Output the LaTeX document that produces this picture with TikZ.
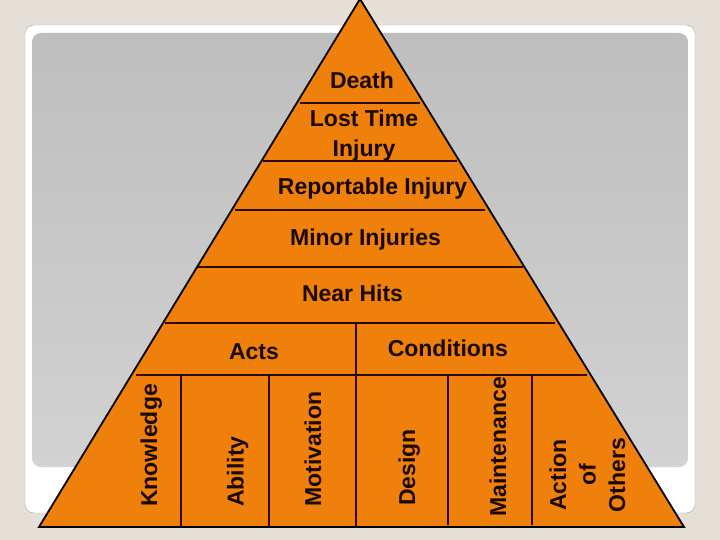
\documentclass[tikz,border=0pt]{standalone}
\usepackage{fontspec}
\setmainfont{Liberation Sans}
\usepackage{xcolor}
\definecolor{pagebg}{RGB}{228,224,215}
\definecolor{framegray}{RGB}{170,170,170}
\definecolor{paneltop}{RGB}{190,190,190}
\definecolor{panelbottom}{RGB}{210,210,210}
\definecolor{pyrorange}{RGB}{239,128,12}
\definecolor{divbrown}{RGB}{45,8,0}
\definecolor{labeltext}{RGB}{25,8,0}

\begin{document}
\begin{tikzpicture}[x=1pt,y=-1pt,
    lbl/.style={font=\bfseries\fontsize{23}{29.5}\selectfont, text=labeltext, inner sep=0pt},
    vlbl/.style={lbl, rotate=90, anchor=base west},
    divider/.style={draw=divbrown, line width=1.8pt}]
            \useasboundingbox[fill=pagebg] (0,0) rectangle (720,540);

            % slide frame
            \draw[fill=white, draw=framegray, rounded corners=9pt] (25,25) rectangle (695,513);
            \shade[top color=paneltop, bottom color=panelbottom, rounded corners=9pt] (32,33) rectangle (688,467);

            % pyramid
            \coordinate (apex) at (360,-1);
            \coordinate (baseleft) at (39,527);
            \coordinate (baseright) at (684,527);
            \draw[fill=pyrorange, line width=1.8pt] (apex) -- (baseleft) -- (baseright) -- cycle;

            % tiers
            \draw[divider] (300,103) -- (420,103);
            \draw[divider] (263,161) -- (457,161);
            \draw[divider] (235,210) -- (485,210);
            \draw[divider] (198,267) -- (523,267);
            \draw[divider] (165,323) -- (555,323);
            \draw[divider] (136,375) -- (587,375);

            % columns
            \draw[divider] (356,323) -- (356,526);
            \draw[divider] (181,375) -- (181,526);
            \draw[divider] (269,375) -- (269,526);
            \draw[divider] (448,375) -- (448,525);
            \draw[divider] (532,375) -- (532,525);

            \node[lbl, anchor=base] (death) at (362,88.3) {Death};
            \node[lbl, align=center] (losttime) at (364,135.5) {Lost Time\\Injury};
            \node[lbl, anchor=base] (reportable) at (372.5,195) {Reportable Injury};
            \node[lbl, anchor=base] (minor) at (365.5,245) {Minor Injuries};
            \node[lbl, anchor=base] (nearhits) at (352.5,301.7) {Near Hits};
            \node[lbl, anchor=base] (acts) at (254,359.3) {Acts};
            \node[lbl, anchor=base] (conditions) at (447.8,356) {Conditions};

            \node[vlbl] (knowledge) at (157,507) {Knowledge};
            \node[vlbl] (ability) at (243.5,507) {Ability};
            \node[vlbl] (motivation) at (321,507) {Motivation};
            \node[vlbl] (design) at (415,506) {Design};
            \node[vlbl] (maintenance) at (506,516.7) {Maintenance};
            \node[lbl, rotate=90, align=center] (others) at (587.3,475) {Action\\of\\Others};
\end{tikzpicture}
\end{document}
